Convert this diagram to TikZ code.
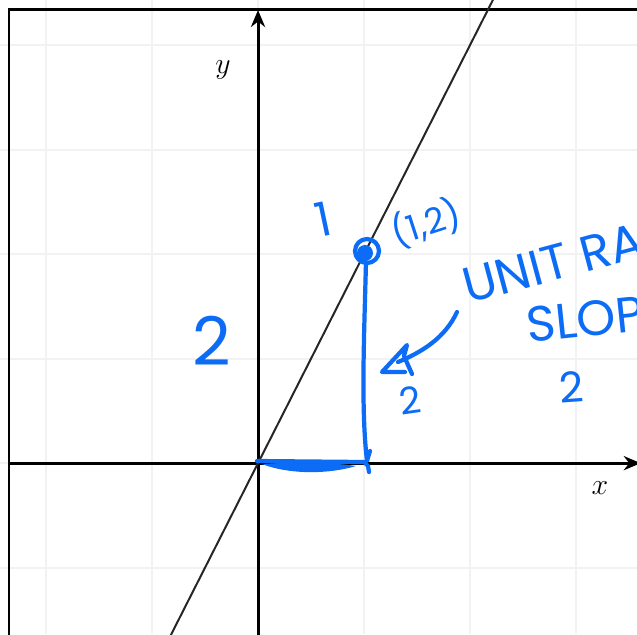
\documentclass[tikz,border=0pt]{standalone}
\usepackage{fontspec}
\newfontfamily\inkfont{Poppins}
\usetikzlibrary{arrows.meta}
\definecolor{ink}{RGB}{12,108,245}
\tikzset{
  gridline/.style={draw=black!5, line width=0.8pt, xstep=1.5cm, ystep=1.479cm},
  axis/.style={line width=1.2pt, -{Stealth[length=2.4mm,width=2mm]}},
  graphline/.style={draw=black!85, line width=0.8pt},
  axislabel/.style={font=\large, inner sep=0pt},
  inkline/.style={ink, line width=1.7pt, line cap=round, line join=round},
  inktext/.style={text=ink, inner sep=0pt}
}
\newcommand{\inksize}[1]{\inkfont\fontsize{#1}{#1}\selectfont}

\begin{document}
\begin{tikzpicture}[x=1.5cm, y=1.479cm]
  \useasboundingbox (-2.434,-1.636) rectangle (3.575,4.431);
  \fill[white] (-2.434,-1.636) rectangle (3.575,4.431);
  \draw[gridline] (-2.434,-1.636) grid (3.575,4.431);

  % frame, axes and y = 2x
  \draw[line width=1.2pt] (-2.349,-1.7) |- (3.7,4.344);
  \draw[axis] (-2.349,0) -- (3.61,0);
  \draw[axis] (0,-1.7) -- (0,4.335);
  \node[axislabel] (ylabel) at (-0.33,3.76) {$y$};
  \node[axislabel] (xlabel) at (3.226,-0.24) {$x$};
  \draw[graphline] (-0.85,-1.7) -- (2.22,4.44);

  % handwritten notes, in pixel units
  \begin{scope}[shift={(-2.434,4.431)}, x=0.4026pt, y=-0.4026pt]
    \draw[inkline] (367,251) circle[radius=12];
    \fill[ink] (365,253) circle[radius=8];
    \draw[inkline] (366,262) .. controls (364,340) and (361,410) .. (367,461) -- (370,451);
    \draw[inkline] (257,461) -- (364,462) -- (368,466) -- (369,472);
    \fill[ink] (262,464) .. controls (290,475) and (330,474) .. (356,466)
                         .. controls (330,462) and (290,462) .. (262,464);

    \draw[inkline] (457,312) .. controls (445,338) and (422,352) .. (398,362);
    \draw[inkline] (405,372) -- (382,372) -- (407,345) -- (404,356) -- (412,374);

    \node[inktext, font=\inksize{19}, rotate=12] (one) at (323,219) {1};
    \node[inktext, font=\inksize{14}, rotate=18] (point) at (426,223) {(1,2)};
    \node[inktext, font=\inksize{27}] (rise) at (212,341) {2};
    \node[inktext, font=\inksize{15}, rotate=8] (run) at (410,400) {2};
    \node[inktext, font=\inksize{20}, rotate=15, anchor=base west] (rate) at (468,304) {UNIT RA};
    \node[inktext, font=\inksize{20}, rotate=6, anchor=base west] (slope) at (528,343) {SLOP};
    \node[inktext, font=\inksize{17}, rotate=4] (slopeval) at (572,387) {2};
  \end{scope}
\end{tikzpicture}
\end{document}
